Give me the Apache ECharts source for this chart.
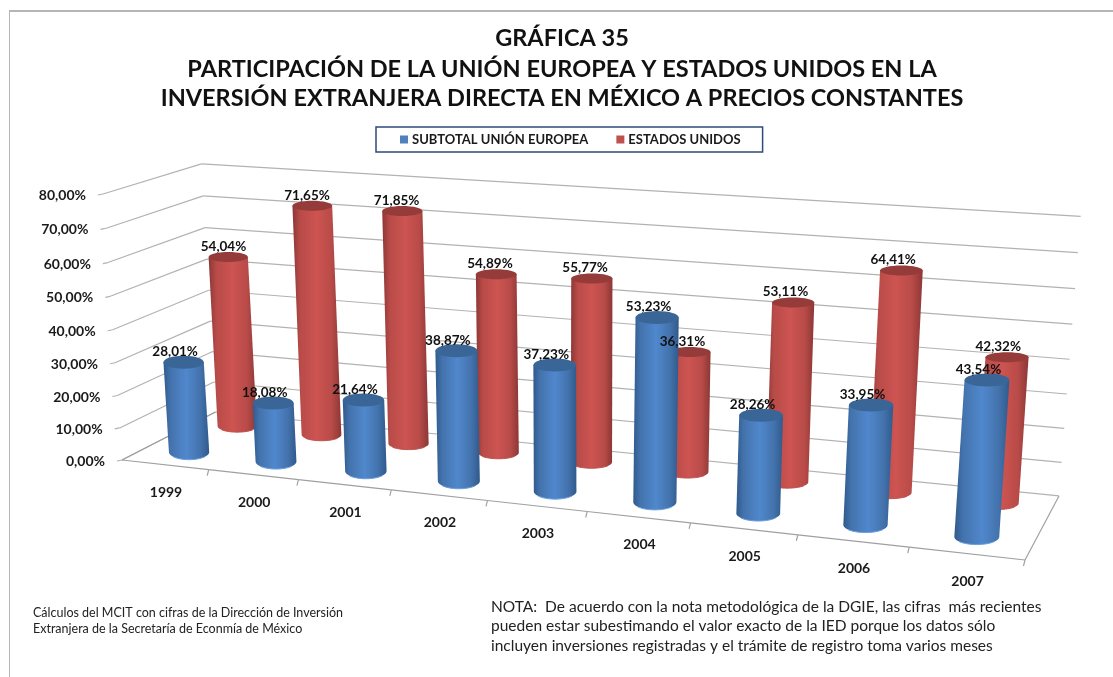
<!DOCTYPE html>
<html>
<head>
<meta charset="utf-8">
<title>Gráfica 35</title>
<script src="https://cdn.jsdelivr.net/npm/echarts@6/dist/echarts.min.js"></script>
<style>
    html, body { margin: 0; padding: 0; background: #fff; }
    #chart { width: 1113px; height: 677px; }
</style>
</head>
<body>
<div id="chart"></div>
<script>
// datos
const years = ['1999', '2000', '2001', '2002', '2003', '2004', '2005', '2006', '2007']
const ueValues = [28.01, 18.08, 21.64, 38.87, 37.23, 53.23, 28.26, 33.95, 43.54]
const usaValues = [54.04, 71.65, 71.85, 54.89, 55.77, 36.31, 53.11, 64.41, 42.32]
const yTicks = [0, 10, 20, 30, 40, 50, 60, 70, 80]
const yTickLabels = ['0,00%', '10,00%', '20,00%', '30,00%', '40,00%', '50,00%', '60,00%', '70,00%', '80,00%']
const ueName = 'SUBTOTAL UNIÓN EUROPEA'
const usaName = 'ESTADOS UNIDOS'

const FONT = 'Lato'
const GRID = { left: 100, top: 100, width: 900, height: 400 }
const GRID_LINE = '#b2b2b2'

// camara: pasa de (u, v, h) del cubo unitario a la pantalla
function project(u, v, h) {
    const w = 1 - 0.15 * u + 0.0766 * v - 0.04 * h
    return [
        (749.25 * u + 110 * v - 23.12 * h + 122) / w,
        (16 * u - 16.44 * v - 273.76 * h + 6 * u * h + 460) / w
    ]
}
// escala del eje -> cubo unitario
function toU(px) { return (px - GRID.left) / GRID.width }
function toH(py) { return (GRID.top + GRID.height - py) / GRID.height }

function line(a, b, color, width) {
    return {
        type: 'line',
        shape: { x1: a[0], y1: a[1], x2: b[0], y2: b[1] },
        style: { stroke: color || GRID_LINE, lineWidth: width || 1.2 }
    }
}

// rejilla de las paredes y etiquetas del eje y
function renderWall(params, api) {
    const h = toH(api.coord([0, api.value(0)])[1])
    const front = project(0, 0, h)
    const back = project(0, 1, h)
    const right = project(1, 1, h)
    return {
        type: 'group',
        children: [
            line(front, back),
            line(back, right),
            line(front, [front[0] - 5, front[1] + 1]),
            {
                type: 'text',
                style: {
                    x: front[0] - 17, y: front[1] + 1.5,
                    text: yTickLabels[params.dataIndex],
                    font: 'bold 14px ' + FONT,
                    fill: '#1a1a1a', align: 'right', verticalAlign: 'middle'
                }
            }
        ]
    }
}

// piso, marcas y etiquetas del eje x
function renderFloor(params, api) {
    const i = api.value(0)
    const center = toU(api.coord([i, 0])[0])
    const band = api.size([1, 0])[0] / GRID.width
    const a = project(center + band / 2, 0, 0)
    const mid = project(center, 0, 0)
    const children = [
        line(project(center - band / 2, 0, 0), a, '#a0a0a0'),
        line(a, [a[0] - 1.5, a[1] + 6], '#a0a0a0'),
        {
            type: 'text',
            style: {
                x: mid[0] + 1, y: mid[1] + 27.5,
                text: years[i],
                font: 'bold 14px ' + FONT,
                fill: '#1a1a1a', align: 'center', verticalAlign: 'middle'
            }
        }
    ]
    if (i === 0) {
        children.push(line(project(0, 0, 0), project(0, 1, 0), '#a0a0a0'))
    }
    if (i === years.length - 1) {
        children.push(line(project(1, 0, 0), project(1, 1, 0), '#a0a0a0'))
    }
    return { type: 'group', children: children }
}

function cylinder(depth, look) {
    return function (params, api) {
        const i = api.value(0)
        const val = api.value(1)
        const p = api.coord([i, val])
        const u = toU(p[0])
        const base = project(u, depth, 0)
        const top = project(u, depth, toH(p[1]))
        const rx = look.rx + look.grow * u
        const arc = []
        for (let k = 0; k <= 24; k++) {
            const t = k / 24 * Math.PI
            arc.push([base[0] + rx * Math.cos(t), base[1] + look.ry * Math.sin(t) * 1.2])
        }
        return {
            type: 'group',
            children: [
                {
                    type: 'polygon',
                    shape: { points: [[top[0] - rx, top[1]], [top[0] + rx, top[1]]].concat(arc) },
                    style: {
                        fill: new echarts.graphic.LinearGradient(0, 0, 1, 0, [
                            { offset: 0, color: look.edge },
                            { offset: 0.16, color: look.side },
                            { offset: 0.5, color: look.mid },
                            { offset: 0.8, color: look.side },
                            { offset: 1, color: look.edge }
                        ])
                    }
                },
                {
                    type: 'polyline',
                    shape: { points: arc.slice(5, 20) },
                    style: { stroke: look.rim, lineWidth: 1, fill: null }
                },
                {
                    type: 'ellipse',
                    shape: { cx: top[0], cy: top[1], rx: rx, ry: look.ry },
                    style: { fill: look.cap }
                },
                {
                    type: 'text',
                    z2: 100,
                    style: {
                        x: top[0] + look.labelX + look.labelGrow * u,
                        y: top[1] - 10.5,
                        text: val.toFixed(2).replace('.', ',') + '%',
                        font: 'bold 13.5px ' + FONT,
                        fill: '#111', align: 'center', verticalAlign: 'middle'
                    }
                }
            ]
        }
    }
}

const blueLook = { rx: 20, grow: 2.6, ry: 6.5, edge: '#2f5a8c', side: '#4473ad', mid: '#5088cd', cap: '#3a6597', rim: '#6a9fdc', labelX: -8.5, labelGrow: 0 }
const redLook = { rx: 19.5, grow: 2.2, ry: 5, edge: '#8c3735', side: '#b84b48', mid: '#cd5451', cap: '#953b39', rim: '#c0504d', labelX: -4.5, labelGrow: -4.5 }

let myChart = echarts.init(document.getElementById('chart'))
let option = {
    backgroundColor: '#fff',
    animation: false,
    title: [
        { text: 'GRÁFICA 35', top: 26 },
        { text: 'PARTICIPACIÓN DE LA UNIÓN EUROPEA Y ESTADOS UNIDOS EN LA', top: 57 },
        { text: 'INVERSIÓN EXTRANJERA DIRECTA EN MÉXICO A PRECIOS CONSTANTES', top: 86 }
    ].map(t => Object.assign(t, {
        left: 562,
        textAlign: 'center',
        padding: 0,
        textStyle: { fontFamily: FONT, fontWeight: 'bold', fontSize: 23.5, color: '#111' }
    })),
    legend: {
        data: [ueName, usaName],
        left: 376,
        top: 127,
        padding: [6, 22, 6, 24],
        itemGap: 28,
        itemWidth: 8,
        itemHeight: 8,
        icon: 'rect',
        backgroundColor: '#fff',
        borderColor: '#2f4a78',
        borderWidth: 1.5,
        borderRadius: 0,
        textStyle: { fontFamily: FONT, fontWeight: 'bold', fontSize: 13, color: '#1a1a1a', padding: [0, 0, 0, -1] }
    },
    grid: GRID,
    xAxis: { type: 'category', data: years, show: false },
    yAxis: { type: 'value', min: 0, max: 80, interval: 10, show: false },
    graphic: [
        { type: 'line', silent: true, shape: { x1: 9.5, y1: 677, x2: 9.5, y2: 11 }, style: { stroke: '#b5b5b5', lineWidth: 1 } },
        { type: 'line', silent: true, shape: { x1: 9, y1: 11, x2: 1113, y2: 11 }, style: { stroke: '#b5b5b5', lineWidth: 2 } },
        { type: 'text', left: 33, top: 606, style: { text: 'Cálculos del MCIT con cifras de la Dirección de Inversión', font: '12.5px ' + FONT, fill: '#222' } },
        { type: 'text', left: 33, top: 622, style: { text: 'Extranjera de la Secretaría de Econmía de México', font: '12.5px ' + FONT, fill: '#222' } },
        { type: 'text', left: 491, top: 599, style: { text: 'NOTA:  De acuerdo con la nota metodológica de la DGIE, las cifras  más recientes', font: '15.5px ' + FONT, fill: '#222' } },
        { type: 'text', left: 491, top: 618, style: { text: 'pueden estar subestimando el valor exacto de la IED porque los datos sólo', font: '15.5px ' + FONT, fill: '#222' } },
        { type: 'text', left: 491, top: 638, style: { text: 'incluyen inversiones registradas y el trámite de registro toma varios meses', font: '15.5px ' + FONT, fill: '#222' } }
    ],
    series: [
        { type: 'custom', name: 'rejilla', clip: false, silent: true, renderItem: renderWall, data: yTicks.map(v => [v]), encode: { y: 0 } },
        { type: 'custom', name: 'piso', clip: false, silent: true, renderItem: renderFloor, data: years.map((y, i) => [i]), encode: { x: 0 } },
        {
            type: 'custom', name: usaName, clip: false,
            renderItem: cylinder(0.78, redLook),
            itemStyle: { color: '#c0504d' },
            data: usaValues.map((v, i) => [i, v]),
            encode: { x: 0, y: 1 }
        },
        {
            type: 'custom', name: ueName, clip: false,
            renderItem: cylinder(0.25, blueLook),
            itemStyle: { color: '#4f81bd' },
            data: ueValues.map((v, i) => [i, v]),
            encode: { x: 0, y: 1 }
        }
    ]
}
option && myChart.setOption(option)
window.addEventListener('resize', function () {
    myChart.resize()
})
</script>
</body>
</html>
